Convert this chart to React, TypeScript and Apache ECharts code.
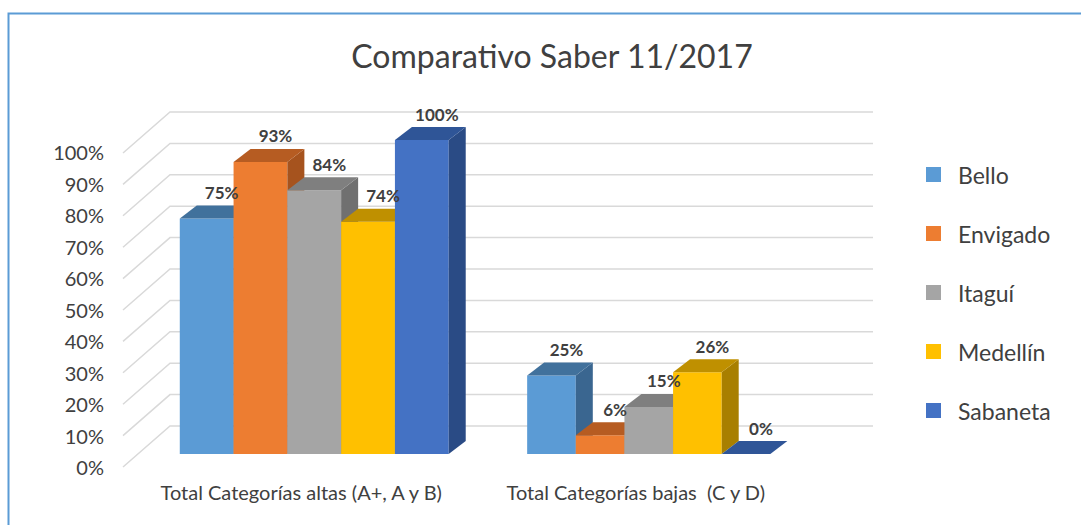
import React, { useEffect, useRef } from "react";
import * as echarts from "echarts";

const categories = ["Total Categorías altas (A+, A y B)", "Total Categorías bajas  (C y D)"];
const cityNames = ["Bello", "Envigado", "Itaguí", "Medellín", "Sabaneta"];
const bello = [75, 25];
const envigado = [93, 6];
const itagui = [84, 15];
const medellin = [74, 26];
const sabaneta = [100, 0];
const yTicks = [0, 10, 20, 30, 40, 50, 60, 70, 80, 90, 100];
const seriesValues = [bello, envigado, itagui, medellin, sabaneta];

const FRONT = ["#5B9BD5", "#ED7D31", "#A5A5A5", "#FFC000", "#4472C4"];
const TOP = ["#41719C", "#B65C22", "#7F7F7F", "#BF9000", "#2F5597"];
const SIDE = ["#3A6690", "#A6531E", "#707070", "#A87F00", "#2A4B85"];
const GROUP_SCALE = [0.804, 0.727];
const DX = 17;
const DY = -13;
const FONT = "Lato, 'Open Sans', sans-serif";

export default function App() {
  const ref = useRef<HTMLDivElement>(null);
  useEffect(() => {
    if (!ref.current) return;
    const chart = echarts.init(ref.current, undefined, { renderer: "svg" });

    const barSeries = seriesValues.map((vals, s) => ({
      type: "custom",
      name: cityNames[s],
      xAxisIndex: 0,
      yAxisIndex: 0,
      z: 3,
      itemStyle: { color: FRONT[s] },
      encode: { x: 0, y: 1 },
      data: vals.map((v, i) => [i, v]),
      renderItem: (params: any, api: any) => {
        const ci = api.value(0) as number;
        const v = api.value(1) as number;
        const base = api.coord([ci, 0]);
        const top = api.coord([ci, v]);
        const band = api.size([1, 0])[0];
        const gw = band * GROUP_SCALE[ci];
        const bw = gw / 5;
        const x0 = base[0] - gw / 2 + s * bw;
        const x1 = x0 + bw;
        const yb = base[1];
        const yt = top[1];
        const children: any[] = [];
        if (yb - yt > 0.5) {
          children.push({
            type: "rect",
            shape: { x: x0, y: yt, width: bw, height: yb - yt },
            style: { fill: FRONT[s] },
          });
          children.push({
            type: "polygon",
            shape: { points: [[x1, yt], [x1 + DX, yt + DY], [x1 + DX, yb + DY], [x1, yb]] },
            style: { fill: SIDE[s] },
          });
        }
        children.push({
          type: "polygon",
          shape: { points: [[x0, yt], [x1, yt], [x1 + DX, yt + DY], [x0 + DX, yt + DY]] },
          style: { fill: TOP[s] },
        });
        children.push({
          type: "text",
          z2: 100,
          style: {
            text: v + "%",
            x: x0 + bw / 2 + 15,
            y: yt + DY - 13,
            align: "center",
            verticalAlign: "middle",
            fill: "#404040",
            fontSize: 17,
            fontWeight: "bold",
            fontFamily: FONT,
          },
        });
        return { type: "group", children };
      },
    }));

    const wallSeries = {
      type: "custom",
      name: "walls",
      xAxisIndex: 0,
      yAxisIndex: 0,
      z: 1,
      silent: true,
      encode: { x: 0, y: 1 },
      data: yTicks.map((v) => [0, v]),
      renderItem: (params: any, api: any) => {
        const cs = params.coordSys;
        const y = api.coord([0, api.value(1)])[1];
        const left = cs.x;
        const right = cs.x + cs.width;
        return {
          type: "polyline",
          shape: {
            points: [
              [left - 24, y + 13],
              [left + 23, y - 28],
              [right + 57, y - 28],
            ],
          },
          style: { stroke: "#D9D9D9", lineWidth: 1.5, fill: "none" },
        };
      },
    };

    chart.setOption({
      animation: false,
      backgroundColor: "#ffffff",
      title: {
        text: "Comparativo Saber 11/2017",
        left: 552,
        top: 36,
        textAlign: "center",
        padding: 0,
        textStyle: {
          fontFamily: FONT,
          fontSize: 32,
          fontWeight: "normal",
          color: "#404040",
          lineHeight: 38,
        },
      },
      legend: {
        data: cityNames,
        orient: "vertical",
        left: 926,
        top: 163,
        padding: 0,
        icon: "rect",
        itemWidth: 15,
        itemHeight: 15,
        itemGap: 36,
        textStyle: {
          fontFamily: FONT,
          fontSize: 23,
          lineHeight: 23,
          color: "#404040",
          padding: [0, 0, 0, 12],
        },
      },
      grid: [
        { left: 147, right: 265, top: 140, bottom: 71 },
        { left: 123, width: 10, top: 152, bottom: 58 },
      ],
      xAxis: [
        {
          type: "category",
          gridIndex: 0,
          data: categories,
          axisLine: { show: false },
          axisTick: { show: false },
          axisLabel: {
            interval: 0,
            hideOverlap: false,
            margin: 27,
            fontFamily: FONT,
            fontSize: 20,
            lineHeight: 22,
            color: "#404040",
            padding: [0, 26, 0, 0],
          },
        },
        { type: "value", gridIndex: 1, show: false, min: 0, max: 1 },
      ],
      yAxis: [
        {
          type: "value",
          gridIndex: 0,
          min: 0,
          max: 100,
          interval: 10,
          show: false,
          splitLine: { show: false },
        },
        {
          type: "value",
          gridIndex: 1,
          min: 0,
          max: 100,
          interval: 10,
          axisLine: { show: false },
          axisTick: { show: false },
          splitLine: { show: false },
          axisLabel: {
            formatter: "{value}%",
            margin: 19,
            fontFamily: FONT,
            fontSize: 20,
            color: "#404040",
          },
        },
      ],
      graphic: [
        {
          type: "rect",
          silent: true,
          z: -1,
          shape: { x: 8.5, y: 13.5, width: 1200, height: 700 },
          style: { fill: "none", stroke: "#5B9BD5", lineWidth: 2 },
        },
      ],
      series: [wallSeries, ...barSeries],
    });

    return () => chart.dispose();
  }, []);

  return (
    <div
      ref={ref}
      style={{ position: "fixed", left: 0, top: 0, width: 1081, height: 525 }}
    />
  );
}
